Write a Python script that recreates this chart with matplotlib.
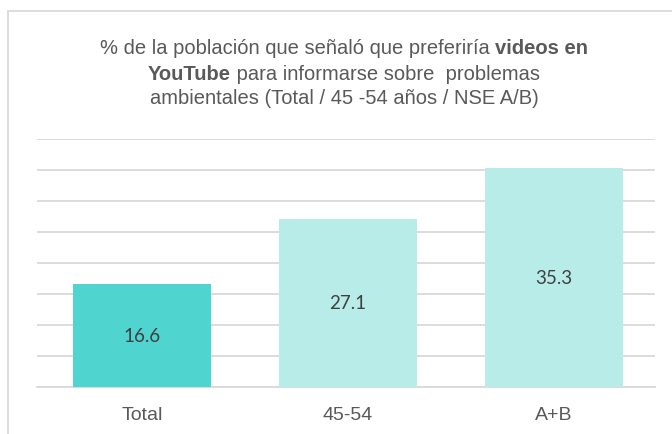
import matplotlib
matplotlib.use("Agg")
import matplotlib.pyplot as plt
from matplotlib.patches import Rectangle

categories = ["Total", "45-54", "A+B"]
values = [16.6, 27.1, 35.3]
value_labels = ["16.6", "27.1", "35.3"]
colors = ["#4FD4D0", "#B8ECE9", "#B8ECE9"]

fig = plt.figure(figsize=(6.72, 4.35), dpi=100)
ax = fig.add_axes([37/672, 1-388/435, (655-37)/672, (388-140)/435])

x = range(len(categories))
bars = ax.bar(x, values, width=0.67, color=colors, zorder=3)
ax.set_xlim(-0.51, 2.49)
ax.set_ylim(0, 40)
ax.set_yticks(range(0, 41, 5))
ax.yaxis.grid(True, color="#D9D9D9", linewidth=1.3, zorder=0)
ax.tick_params(axis="y", left=False, labelleft=False)
ax.tick_params(axis="x", bottom=False, labelsize=14, labelcolor="#595959", pad=10)
ax.set_xticks(list(x))
ax.set_xticklabels(categories, family="Liberation Sans")
for s in ["top", "right", "left"]:
    ax.spines[s].set_visible(False)
ax.spines["bottom"].set_color("#D9D9D9")
ax.spines["bottom"].set_linewidth(1.3)

for b, v, lab in zip(bars, values, value_labels):
    ax.text(b.get_x() + b.get_width()/2, v/2, lab,
            ha="center", va="center", fontsize=13.5, color="#404040", family="Lato", zorder=4)

# border
fig.add_artist(Rectangle((8/672, -0.1), 1.0, 1-12/435 + 0.1, transform=fig.transFigure,
                         fill=False, edgecolor="#D9D9D9", linewidth=1.3))

# title with bold parts
fs = 14.5
tcol = "#595959"
cx = 344/672
lines = [
    [("% de la población que señaló que preferiría ", "normal"), ("videos en", "bold")],
    [("YouTube", "bold"), (" para informarse sobre  problemas", "normal")],
    [("ambientales (Total / 45 -54 años / NSE A/B)", "normal")],
]
ys = [1-49/435, 1-74.5/435, 1-98/435]
fig.canvas.draw()
renderer = fig.canvas.get_renderer()
for parts, y in zip(lines, ys):
    texts = []
    widths = []
    for s, w in parts:
        t = fig.text(0, y, s, fontsize=fs, fontweight=w, color=tcol, family="Liberation Sans",
                     va="center", ha="left")
        bb = t.get_window_extent(renderer=renderer)
        texts.append(t)
        widths.append(bb.width / fig.bbox.width)
    total = sum(widths)
    start = cx - total/2
    for t, w in zip(texts, widths):
        t.set_x(start)
        start += w

fig.savefig("out.png", dpi=100)
